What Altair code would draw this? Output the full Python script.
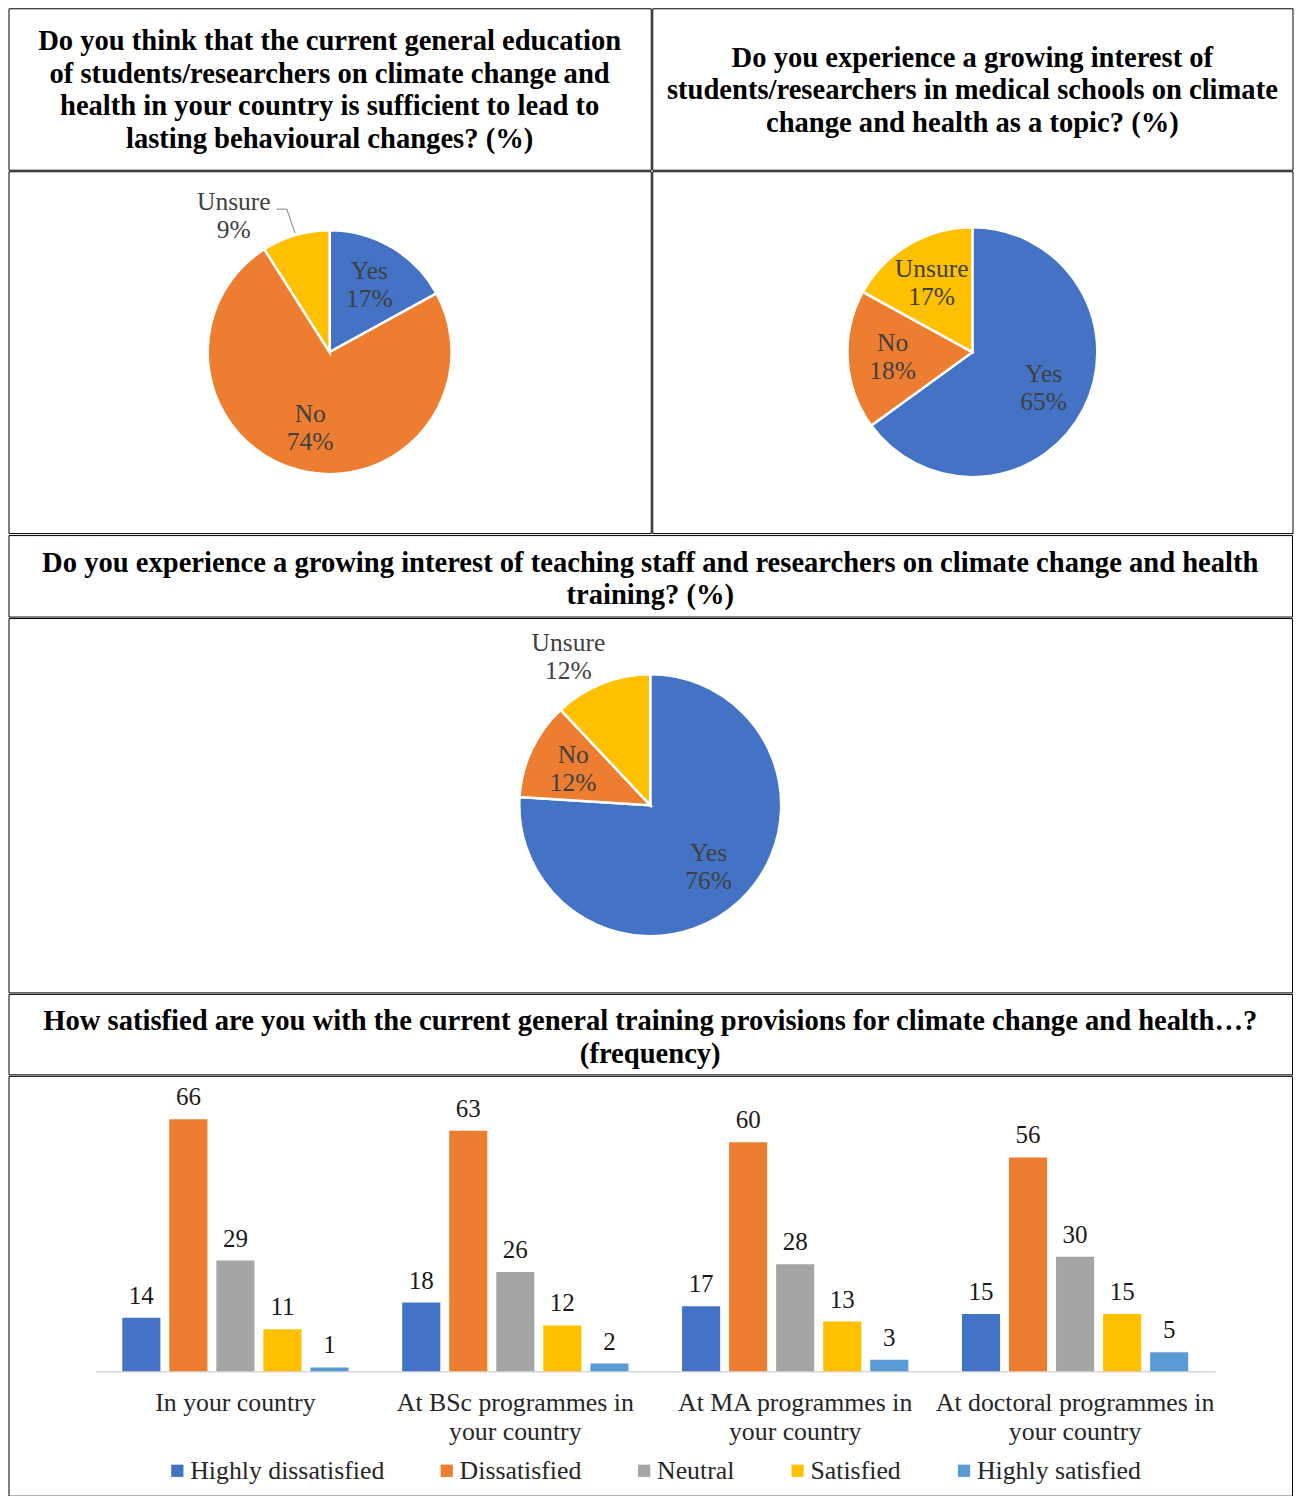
import altair as alt
import pandas as pd

FONT = "Liberation Serif"
TXT = "#404040"

# ---------------- data ----------------
pie_cats = ["Yes", "No", "Unsure"]
pie_colors = ["#4472C4", "#ED7D31", "#FFC000"]
q1_pct = [17, 74, 9]
q2_pct = [65, 18, 17]
q3_pct = [76, 12, 12]

title1 = ["Do you think that the current general education",
          "of students/researchers on climate change and",
          "health in your country is sufficient to lead to",
          "lasting behavioural changes? (%)"]
title2 = ["Do you experience a growing interest of",
          "students/researchers in medical schools on climate",
          "change and health as a topic? (%)"]
title3 = ["Do you experience a growing interest of teaching staff and researchers on climate change and health",
          "training? (%)"]
title4 = ["How satisfied are you with the current general training provisions for climate change and health\u2026?",
          "(frequency)"]

categories = ["In your country",
              "At BSc programmes in your country",
              "At MA programmes in your country",
              "At doctoral programmes in your country"]
levels = ["Highly dissatisfied", "Dissatisfied", "Neutral", "Satisfied", "Highly satisfied"]
level_colors = ["#4472C4", "#ED7D31", "#A5A5A5", "#FFC000", "#5B9BD5"]
highly_dissatisfied = [14, 18, 17, 15]
dissatisfied = [66, 63, 60, 56]
neutral = [29, 26, 28, 30]
satisfied = [11, 12, 13, 15]
highly_satisfied = [1, 2, 3, 5]

TITLE_LH = 32.5
LABEL_LH = 28


# ---------------- helpers ----------------
def title_cell(lines, w, h, shift=0.0):
    dy = -(len(lines) - 1) * TITLE_LH / 2 + shift
    return alt.Chart(pd.DataFrame({"t": [0]})).mark_text(
        font=FONT, fontSize=28.6, fontWeight="bold", color="black",
        align="center", baseline="middle", lineHeight=TITLE_LH, dy=dy
    ).encode(
        x=alt.value(w / 2), y=alt.value(h / 2), text=alt.value(lines)
    ).properties(width=w, height=h)


def pie_cell(pcts, w, h, r, in_frac=0.66, out_cat="", out_r=0, out_dx=0, out_dy=0, leader=False):
    df = pd.DataFrame({"cat": pie_cats, "pct": pcts, "idx": list(range(len(pcts)))})
    cx, cy = w / 2, h / 2
    base = alt.Chart(df)
    arc = base.mark_arc(outerRadius=r, stroke="white", strokeWidth=2.5).encode(
        theta=alt.Theta("pct:Q", stack=True),
        order=alt.Order("idx:Q"),
        color=alt.Color("cat:N", scale=alt.Scale(domain=pie_cats, range=pie_colors), legend=None),
    )
    pos = (
        base.transform_window(cum="sum(pct)", sort=[alt.SortField("idx")], frame=[None, 0])
        .transform_calculate(mid="(datum.cum - datum.pct / 2) / 100 * 2 * PI")
        .transform_calculate(isout=f"datum.cat == '{out_cat}'")
        .transform_calculate(rad=f"datum.isout ? {out_r} : {in_frac * r}")
        .transform_calculate(lx=f"{cx} + datum.rad * sin(datum.mid) + (datum.isout ? {out_dx} : 0)")
        .transform_calculate(ly=f"{cy} - datum.rad * cos(datum.mid) + (datum.isout ? {out_dy} : 0)")
        .transform_calculate(label="[datum.cat, datum.pct + '%']")
    )
    txt = pos.mark_text(
        font=FONT, fontSize=25.5, color=TXT, lineHeight=LABEL_LH, align="center",
        baseline="middle", dy=-LABEL_LH / 2
    ).encode(
        x=alt.X("lx:Q", scale=None), y=alt.Y("ly:Q", scale=None), text=alt.Text("label:N")
    )
    layers = [arc, txt]
    if leader:
        lead = (
            pos.transform_filter("datum.isout")
            .transform_calculate(ex=f"{cx} + {r + 2} * sin(datum.mid)")
            .transform_calculate(ey=f"{cy} - {r + 2} * cos(datum.mid)")
            .transform_calculate(ax="datum.lx + 43", bx="datum.lx + 53", by="datum.ly - 7")
        )
        seg1 = lead.mark_rule(color="#7f7f7f", strokeWidth=1).encode(
            x=alt.X("ax:Q", scale=None), x2="bx:Q",
            y=alt.Y("by:Q", scale=None), y2="by:Q")
        seg2 = lead.mark_rule(color="#7f7f7f", strokeWidth=1).encode(
            x=alt.X("bx:Q", scale=None), x2="ex:Q",
            y=alt.Y("by:Q", scale=None), y2="ey:Q")
        layers += [seg1, seg2]
    return alt.layer(*layers).properties(width=w, height=h)


# ---------------- panels ----------------
W_L, W_R, W_FULL = 642.5, 640.5, 1284
t1 = title_cell(title1, W_L, 161.5, shift=1)
t2 = title_cell(title2, W_R, 161.5, shift=1.5)
p1 = pie_cell(q1_pct, W_L, 362, 122, in_frac=0.64, out_cat="Unsure", out_r=150, out_dx=-54, out_dy=8,
              leader=True)
p2 = pie_cell(q2_pct, W_R, 362, 125, in_frac=0.64)
t3 = title_cell(title3, W_FULL, 81.5, shift=3)
p3 = pie_cell(q3_pct, W_FULL, 374.5, 131, in_frac=0.65, out_cat="Unsure", out_r=160, out_dx=-23, out_dy=0)
t4 = title_cell(title4, W_FULL, 80.5, shift=3.5)

rows = []
for lvl, vals in zip(levels, [highly_dissatisfied, dissatisfied, neutral, satisfied, highly_satisfied]):
    for c, v in zip(categories, vals):
        rows.append({"category": c, "level": lvl, "value": v})
bar_df = pd.DataFrame(rows)

BAR_H = 420
BASE = 295.5
label_expr = ("datum.label == 'In your country' ? datum.label : "
              "[replace(datum.label, ' your country', ''), 'your country']")

xenc = alt.X(
    "category:N", sort=categories, title=None,
    scale=alt.Scale(range=[87, 1207], paddingInner=0, paddingOuter=0),
    axis=alt.Axis(orient="bottom", offset=BASE - BAR_H, ticks=False, domainColor="#d9d9d9",
                  domainWidth=1.5, labelFont=FONT, labelFontSize=25.8, labelColor="#262626",
                  labelAngle=0, labelPadding=19, labelLineHeight=29, labelLimit=500,
                  labelExpr=label_expr, grid=False),
)
xoff = alt.XOffset("level:N", sort=levels, scale=alt.Scale(paddingInner=0.19, paddingOuter=0.57))
yenc = alt.Y("value:Q", scale=alt.Scale(domain=[0, 70], range=[BASE, BASE - 70 * 3.82], nice=False),
             axis=None)

bars = alt.Chart(bar_df).mark_bar().encode(
    x=xenc, xOffset=xoff, y=yenc,
    color=alt.Color("level:N", sort=levels,
                    scale=alt.Scale(domain=levels, range=level_colors),
                    legend=alt.Legend(title=None, orient="none", legendX=156, legendY=382,
                                      direction="horizontal", symbolType="square", symbolSize=150,
                                      symbolStrokeWidth=0, labelFont=FONT, labelFontSize=25.8,
                                      labelColor="#262626", labelOffset=0, columnPadding=49.5,
                                      labelLimit=500, padding=0)),
)
bar_text = alt.Chart(bar_df).mark_text(
    font=FONT, fontSize=25, color="#1a1a1a", baseline="bottom", dy=-9
).encode(x=xenc, xOffset=xoff, y=yenc, text="value:Q")

bar_panel = alt.layer(bars, bar_text).properties(width=W_FULL, height=BAR_H)

row1 = alt.hconcat(
    alt.vconcat(t1, p1, spacing=0),
    alt.vconcat(t2, p2, spacing=0),
    spacing=0,
)

chart = (
    alt.vconcat(row1, t3, p3, t4, bar_panel, spacing=0)
    .resolve_scale(color="independent", theta="independent")
    .properties(padding={"left": 7.5, "top": 7, "right": 3, "bottom": 0}, background="white")
    .configure_view(stroke="black", strokeWidth=1)
)

chart.save("out.html", embed_options={"renderer": "svg", "actions": False})
